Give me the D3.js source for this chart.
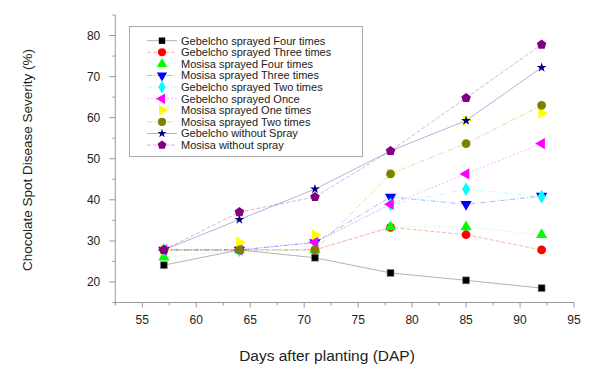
<!DOCTYPE html>
<html>
<head>
<meta charset="utf-8">
<script src="https://cdn.jsdelivr.net/npm/d3@7"></script>
<style>
    body { margin: 0; background: #fff; }
    text { font-family: "Liberation Sans", Arial, sans-serif; fill: #222; }
</style>
</head>
<body>
<svg id="chart" width="600" height="372"></svg>
<script>
// days after planting
const days = [57, 64, 71, 78, 85, 92];

// severity (%) per treatment
const gebelchoFour   = [24.1, 27.8, 25.9, 22.2, 20.4, 18.5];
const gebelchoThree  = [27.8, 27.8, 27.8, 33.3, 31.5, 27.8];
const mosisaFour     = [26.0, 27.8, 27.8, 33.4, 33.4, 31.5];
const mosisaThree    = [27.8, 27.8, 29.6, 40.7, 38.9, 40.9];
const gebelchoTwo    = [27.8, 27.8, 29.6, 38.9, 42.6, 40.8];
const gebelchoOnce   = [27.8, 27.8, 29.7, 38.9, 46.3, 53.7];
const mosisaOne      = [27.8, 29.7, 31.5, 46.3, 59.3, 61.1];
const mosisaTwo      = [27.8, 27.8, 27.8, 46.3, 53.7, 63.0];
const gebelchoNoSpray = [27.8, 35.2, 42.6, 51.9, 59.3, 72.2];
const mosisaNoSpray  = [27.8, 37.0, 40.7, 51.9, 64.8, 77.8];

const seriesNames = [
    "Gebelcho sprayed Four times",
    "Gebelcho sprayed Three times",
    "Mosisa sprayed Four times",
    "Mosisa sprayed Three times",
    "Gebelcho sprayed Two times",
    "Gebelcho sprayed Once",
    "Mosisa sprayed One times",
    "Mosisa sprayed Two times",
    "Gebelcho without Spray",
    "Mosisa without spray"
];
const seriesValues = [gebelchoFour, gebelchoThree, mosisaFour, mosisaThree, gebelchoTwo,
                      gebelchoOnce, mosisaOne, mosisaTwo, gebelchoNoSpray, mosisaNoSpray];

const xTicks = [55, 60, 65, 70, 75, 80, 85, 90, 95];
const yTicks = [20, 30, 40, 50, 60, 70, 80];

// pentagon symbol (not in d3)
const symbolPentagon = {
    draw(context, size) {
        let r = Math.sqrt(size / 2.38);
        for (let k = 0; k < 5; k++) {
            let a = -Math.PI / 2 + k * 2 * Math.PI / 5;
            let px = r * Math.cos(a), py = r * Math.sin(a);
            if (k === 0) context.moveTo(px, py); else context.lineTo(px, py);
        }
        context.closePath();
    }
};

// marker / line style for each series
const styles = [
    {color: "#000000", type: d3.symbolSquare,   size: 48, rot: 0,   dash: null},
    {color: "#ff0000", type: d3.symbolCircle,   size: 60, rot: 0,   dash: "4,2"},
    {color: "#00ff00", type: d3.symbolTriangle, size: 55, rot: 0,   dash: "1,2"},
    {color: "#0000ff", type: d3.symbolTriangle, size: 55, rot: 180, dash: "5,2,1,2"},
    {color: "#00ffff", type: d3.symbolDiamond,  size: 55, rot: 0,   dash: "5,2,1,2,1,2"},
    {color: "#ff00ff", type: d3.symbolTriangle, size: 55, rot: -90, dash: "2,2"},
    {color: "#ffff00", type: d3.symbolTriangle, size: 55, rot: 90,  dash: "1,2"},
    {color: "#808000", type: d3.symbolCircle,   size: 60, rot: 0,   dash: "5,2,1,2"},
    {color: "#000080", type: d3.symbolStar,     size: 30, rot: 0,   dash: null},
    {color: "#800080", type: symbolPentagon,    size: 60, rot: 0,   dash: "4,2"}
];

let svg = d3.select("#chart");

let x = d3.scaleLinear().domain([52.5, 95]).range([115.3, 574]);
let y = d3.scaleLinear().domain([15, 85]).range([302.5, 15]);

// ****************** axes ***************************

let xAxis = svg.append("g")
    .attr("transform", "translate(0," + y(15) + ")");
xAxis.append("line")
    .attr("x1", x(52.5)).attr("x2", x(95))
    .attr("stroke", "#999");
xAxis.selectAll("line.minor")
    .data(d3.range(52.5, 95.1, 2.5))
    .enter().append("line")
    .attr("x1", d => x(d)).attr("x2", d => x(d))
    .attr("y1", 0).attr("y2", d => d % 5 === 0 ? 5 : 3)
    .attr("stroke", "#999");
xAxis.selectAll("text")
    .data(xTicks)
    .enter().append("text")
    .attr("x", d => x(d))
    .attr("y", 21)
    .attr("text-anchor", "middle")
    .style("font-size", "12px")
    .text(d => d);

let yAxis = svg.append("g")
    .attr("transform", "translate(" + x(52.5) + ",0)");
yAxis.append("line")
    .attr("y1", y(85)).attr("y2", y(15) + 2)
    .attr("stroke", "#999");
yAxis.selectAll("line.minor")
    .data(d3.range(15, 85.1, 5))
    .enter().append("line")
    .attr("y1", d => y(d)).attr("y2", d => y(d))
    .attr("x1", 0).attr("x2", d => d % 10 === 0 ? -6 : -3)
    .attr("stroke", "#999");
yAxis.selectAll("text")
    .data(yTicks)
    .enter().append("text")
    .attr("x", -15)
    .attr("y", d => y(d))
    .attr("dy", "0.35em")
    .attr("text-anchor", "end")
    .style("font-size", "12px")
    .text(d => d);

svg.append("text")
    .attr("transform", "translate(32,160) rotate(-90)")
    .attr("text-anchor", "middle")
    .style("font-size", "13.5px")
    .text("Chocolate Spot Disease Severity (%)");

svg.append("text")
    .attr("x", 327)
    .attr("y", 361)
    .attr("text-anchor", "middle")
    .style("font-size", "15.5px")
    .text("Days after planting (DAP)");

// ****************** series ***************************

let line = d3.line()
    .x((d, i) => x(days[i]))
    .y(d => y(d));

let plot = svg.append("g");

seriesValues.forEach(function(vals, s) {
    plot.append("path")
        .attr("d", line(vals))
        .attr("fill", "none")
        .attr("stroke", styles[s].color)
        .attr("stroke-opacity", 0.3)
        .attr("stroke-width", 1)
        .attr("stroke-dasharray", styles[s].dash);
});

seriesValues.forEach(function(vals, s) {
    let st = styles[s];
    plot.selectAll(null)
        .data(vals)
        .enter().append("path")
        .attr("d", d3.symbol().type(st.type).size(st.size))
        .attr("transform", (d, i) => "translate(" + x(days[i]) + "," + y(d) + ") rotate(" + st.rot + ")")
        .attr("fill", st.color)
        .attr("stroke", st.color === "#000000" ? "#888" : "none")
        .attr("stroke-width", 0.6);
});

// ****************** legend ***************************

let legend = svg.append("g");
legend.append("rect")
    .attr("x", 129.5).attr("y", 26.5)
    .attr("width", 233).attr("height", 130)
    .attr("fill", "#fff")
    .attr("stroke", "#aaa");

let rows = legend.selectAll("g.row")
    .data(seriesNames)
    .enter().append("g")
    .attr("class", "row")
    .attr("transform", (d, i) => "translate(0," + (40.7 + i * 11.6) + ")");

rows.append("line")
    .attr("x1", 147).attr("x2", 177)
    .attr("stroke", (d, i) => styles[i].color)
    .attr("stroke-opacity", 0.3)
    .attr("stroke-dasharray", (d, i) => styles[i].dash);

rows.append("path")
    .attr("d", (d, i) => d3.symbol().type(styles[i].type).size(styles[i].size * 0.85)())
    .attr("transform", (d, i) => "translate(162,0) rotate(" + styles[i].rot + ")")
    .attr("fill", (d, i) => styles[i].color);

rows.append("text")
    .attr("x", 181)
    .attr("dy", "0.35em")
    .style("font-size", "11px")
    .text(d => d);
</script>
</body>
</html>
